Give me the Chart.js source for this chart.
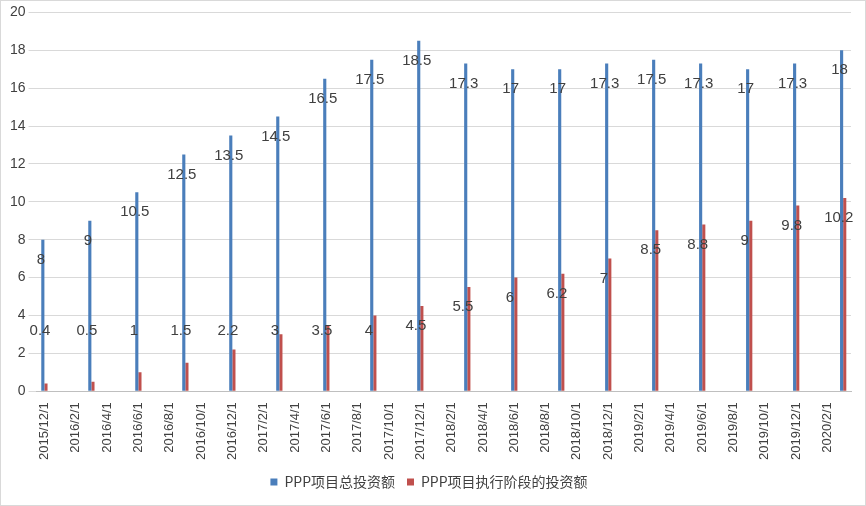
<!DOCTYPE html>
<html>
<head>
<meta charset="utf-8">
<script src="https://cdn.jsdelivr.net/npm/chart.js@4/dist/chart.umd.min.js"></script>
<style>
  body { margin: 0; background: #fff; }
  #wrap { position: absolute; left: 0; top: 0; width: 864px; height: 504px; border: 1px solid #d9d9d9; }
</style>
</head>
<body>
<div id="wrap"><canvas id="chart" width="864" height="504"></canvas></div>
<script>
// quarterly observations
const dates = ["2015/12/1", "2016/3/1", "2016/6/1", "2016/9/1", "2016/12/1", "2017/3/1", "2017/6/1", "2017/9/1", "2017/12/1",
               "2018/3/1", "2018/6/1", "2018/9/1", "2018/12/1", "2019/3/1", "2019/6/1", "2019/9/1", "2019/12/1", "2020/3/1"];
const totalInvest = [8, 9, 10.5, 12.5, 13.5, 14.5, 16.5, 17.5, 18.5, 17.3, 17, 17, 17.3, 17.5, 17.3, 17, 17.3, 18];
const execInvest = [0.4, 0.5, 1, 1.5, 2.2, 3, 3.5, 4, 4.5, 5.5, 6, 6.2, 7, 8.5, 8.8, 9, 9.8, 10.2];
const seriesNames = ["PPP项目总投资额", "PPP项目执行阶段的投资额"];

// monthly date axis, 2015/12 .. 2020/3
const months = [];
for (let y = 2015, m = 12; y < 2020 || (y === 2020 && m <= 3); ) {
    months.push(y + "/" + m + "/1");
    m++; if (m > 12) { m = 1; y++; }
}
function toMonthly(values) {
    let out = Array(months.length).fill(null);
    dates.forEach((d, i) => { out[months.indexOf(d)] = values[i]; });
    return out;
}

const valueLabels = {
    id: "valueLabels",
    afterDatasetsDraw(chart) {
        const ctx = chart.ctx;
        const yScale = chart.scales.y;
        ctx.save();
        ctx.font = "15px 'Liberation Sans', 'Noto Sans', sans-serif";
        ctx.fillStyle = "#404040";
        ctx.textAlign = "center";
        ctx.textBaseline = "middle";
        chart.data.datasets.forEach((ds, di) => {
            chart.getDatasetMeta(di).data.forEach((bar, i) => {
                let v = ds.data[i];
                if (v === null) return;
                let y;
                if (di === 0) y = yScale.getPixelForValue(v) + 20;
                else y = Math.min(yScale.getPixelForValue(v) + 20, 330);
                let x = di === 0 ? bar.x - 2 : bar.x - 6;
                ctx.fillText(String(v), x, y);
            });
        });
        ctx.restore();
    }
};

new Chart(document.getElementById("chart"), {
    type: "bar",
    data: {
        labels: months,
        datasets: [
            { label: seriesNames[0], data: toMonthly(totalInvest), backgroundColor: "#4a7ebb" },
            { label: seriesNames[1], data: toMonthly(execInvest), backgroundColor: "#c0504d" }
        ]
    },
    options: {
        responsive: false,
        animation: false,
        devicePixelRatio: 1,
        layout: { padding: { left: 6, right: 14, top: 10, bottom: 6 } },
        datasets: { bar: { categoryPercentage: 0.4, barPercentage: 1 } },
        scales: {
            x: {
                offset: true,
                grid: { display: false },
                border: { color: "#bfbfbf" },
                ticks: {
                    autoSkip: false, maxRotation: 90, minRotation: 90,
                    color: "#404040",
                    font: { size: 13, family: "'Liberation Sans', 'Noto Sans', sans-serif" },
                    callback: function (val, idx) { return idx % 2 === 0 ? months[idx] : ""; }
                }
            },
            y: {
                min: 0, max: 20,
                grid: { color: "#d9d9d9" },
                border: { display: false },
                ticks: { stepSize: 2, color: "#404040", font: { size: 14, family: "'Liberation Sans', sans-serif" } }
            }
        },
        plugins: {
            legend: {
                position: "bottom",
                labels: {
                    boxWidth: 7, boxHeight: 7, color: "#404040", padding: 12,
                    font: { size: 14, family: "'Noto Sans CJK SC', sans-serif" }
                }
            },
            tooltip: { enabled: false }
        }
    },
    plugins: [valueLabels]
});
</script>
</body>
</html>
